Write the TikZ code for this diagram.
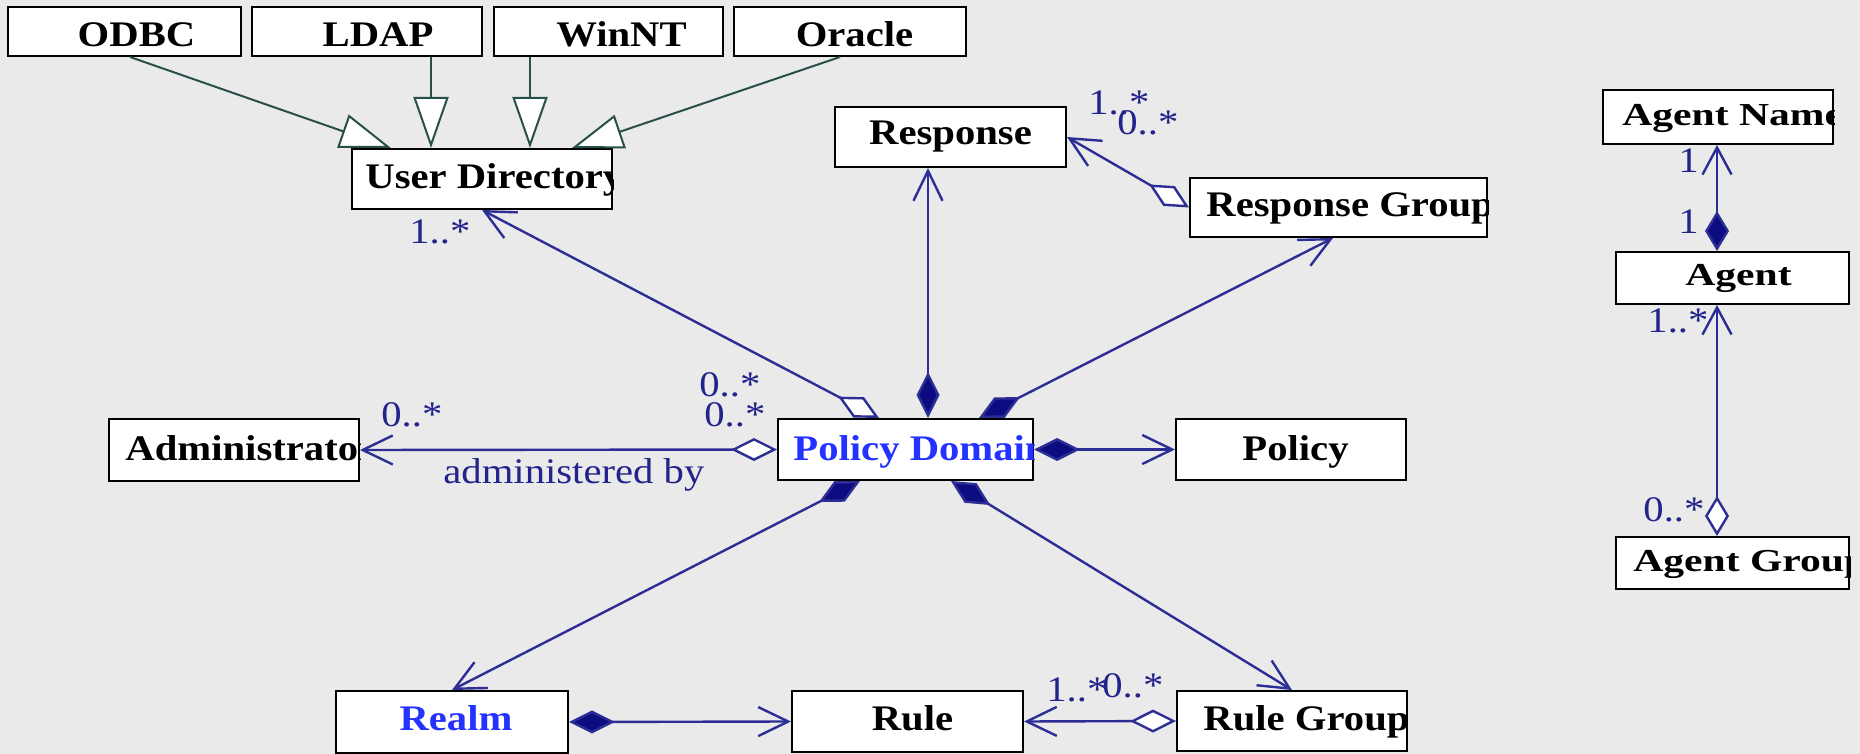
\documentclass[tikz,border=0pt]{standalone}
\usepackage{fontspec}
\setmainfont{Liberation Serif}[FakeStretch=1.13]
\newfontfamily\agentfont{Liberation Serif}[FakeStretch=1.3]
\usetikzlibrary{arrows.meta,calc}
\definecolor{bgc}{RGB}{234,234,234}
\definecolor{genc}{RGB}{40,80,75}
\definecolor{asc}{RGB}{45,45,150}
\definecolor{dfill}{RGB}{12,12,128}
\definecolor{labc}{RGB}{35,35,140}
\definecolor{bluet}{RGB}{35,50,255}
\begin{document}
\begin{tikzpicture}[x=0.5pt,y=-0.5pt,
  box/.style={draw=black, fill=white, line width=1pt, inner sep=0pt},
  txt/.style={inner sep=0pt, font=\fontsize{18}{20}\selectfont\bfseries},
  atxt/.style={inner sep=0pt, font=\agentfont\fontsize{16}{18}\selectfont\bfseries},
  lab/.style={inner sep=0pt, text=labc, font=\fontsize{18}{20}\selectfont, anchor=base west},
  gen/.style={draw=genc, line width=1pt, -{Triangle[length=25.5pt,width=17.5pt,fill=white]}},
  assoc/.style={draw=asc, line width=1.2pt},
  comp/.style={arrows={{Diamond[length=23pt,width=11.5pt,fill=dfill]}-{Straight Barb[length=15pt,width=14.5pt]}}},
  aggr/.style={arrows={{Diamond[length=23pt,width=11.5pt,fill=white]}-{Straight Barb[length=15pt,width=14.5pt]}}},
  compS/.style={arrows={{Diamond[length=20pt,width=12pt,fill=dfill]}-{Straight Barb[length=13.5pt,width=14.5pt]}}},
  aggrS/.style={arrows={{Diamond[length=20pt,width=12pt,fill=white]}-{Straight Barb[length=13.5pt,width=14.5pt]}}}
]
\fill[bgc] (0,0) rectangle (1860,754);
\useasboundingbox (0,0) rectangle (1860,754);

% boxes
\node[box, minimum width=116.5pt, minimum height=24.5pt] (odbc) at (124.5,31.5) {};
\node[box, minimum width=115pt, minimum height=24.5pt] (ldap) at (367,31.5) {};
\node[box, minimum width=114.5pt, minimum height=24.5pt] (winnt) at (608.5,31.5) {};
\node[box, minimum width=116pt, minimum height=24.5pt] (oracle) at (850,31.5) {};
\node[box, minimum width=130pt, minimum height=30pt] (ud) at (482,179) {};
\node[box, minimum width=115.5pt, minimum height=30pt] (resp) at (950.5,137) {};
\node[box, minimum width=148.5pt, minimum height=29.5pt] (rg) at (1338.5,207.5) {};
\node[box, minimum width=125pt, minimum height=31pt] (admin) at (234,450) {};
\node[box, minimum width=127.5pt, minimum height=30.5pt] (pd) at (905.5,449.5) {};
\node[box, minimum width=115pt, minimum height=30.5pt] (pol) at (1291,449.5) {};
\node[box, minimum width=116pt, minimum height=31pt] (realm) at (452,722) {};
\node[box, minimum width=115.5pt, minimum height=30.5pt] (rule) at (907.5,721.5) {};
\node[box, minimum width=115pt, minimum height=30pt] (rgrp) at (1292,721) {};
\node[box, minimum width=115pt, minimum height=27pt] (an) at (1718,117) {};
\node[box, minimum width=116.5pt, minimum height=26pt] (ag) at (1732.5,278) {};
\node[box, minimum width=116.5pt, minimum height=26pt] (agg) at (1732.5,563) {};

% centred texts
\node[txt, anchor=base] (odbc-t) at (136.5,46.7) {ODBC};
\node[txt, anchor=base] (ldap-t) at (378,46.7) {LDAP};
\node[txt, anchor=base] (winnt-t) at (621.5,46.7) {WinNT};
\node[txt, anchor=base] (oracle-t) at (854.5,46.7) {Oracle};
\node[txt, anchor=base] (resp-t) at (950.5,145) {Response};
\node[txt, anchor=base] (pol-t) at (1295.5,460.7) {Policy};
\node[txt, anchor=base, text=bluet] (realm-t) at (456,730) {Realm};
\node[txt, anchor=base] (rule-t) at (912.5,730) {Rule};
\node[atxt, anchor=base] (ag-t) at (1738.5,286) {Agent};

% clipped texts
\begin{scope}\clip (ud.south west) rectangle (ud.north east);
\node[txt, anchor=base west] (ud-t) at (365,188.3) {User Directory};\end{scope}
\begin{scope}\clip (admin.south west) rectangle (admin.north east);
\node[txt, anchor=base west] (admin-t) at (125,460) {Administrator};\end{scope}
\begin{scope}\clip (pd.south west) rectangle (pd.north east);
\node[txt, anchor=base west, text=bluet] (pd-t) at (793,460) {Policy Domain};\end{scope}
\begin{scope}\clip (rg.south west) rectangle (rg.north east);
\node[txt, anchor=base west] (rg-t) at (1206,216.7) {Response Group};\end{scope}
\begin{scope}\clip (rgrp.south west) rectangle (rgrp.north east);
\node[txt, anchor=base west] (rgrp-t) at (1203,730) {Rule Group};\end{scope}
\begin{scope}\clip (an.south west) rectangle (an.north east);
\node[atxt, anchor=base west] (an-t) at (1622,126) {Agent Name};\end{scope}
\begin{scope}\clip (agg.south west) rectangle (agg.north east);
\node[atxt, anchor=base west] (agg-t) at (1633,571) {Agent Group};\end{scope}

% generalizations
\draw[gen] ($(odbc.south)+(5.5,0)$) -- ($(ud.north)+(-91,0)$);
\draw[gen] ($(ldap.south)+(64,0)$) -- ($(ud.north)+(-51,0)$);
\draw[gen] ($(winnt.south)+(-78.5,0)$) -- ($(ud.north)+(48,0)$);
\draw[gen] ($(oracle.south)+(-10,0)$) -- ($(ud.north)+(90,0)$);

% associations
\draw[assoc, aggr] ($(pd.north)+(-26.5,0)$) -- (ud.south);
\draw[assoc, comp] ($(pd.north)+(22.5,0)$) -- ($(resp.south)+(-22.5,0)$);
\draw[assoc, comp] ($(pd.north)+(73.5,0)$) -- ($(rg.south)+(-5.5,0)$);
\draw[assoc, aggr] (rg.west) -- (resp.east);
\draw[assoc, aggr] (pd.west) -- (admin.east);
\draw[assoc, comp] (pd.east) -- (pol.west);
\draw[assoc, comp] ($(pd.south)+(-45.5,0)$) -- (realm.north);
\draw[assoc, comp] ($(pd.south)+(45.5,0)$) -- (rgrp.north);
\draw[assoc, comp] (realm.east) -- (rule.west);
\draw[assoc, aggr] (rgrp.west) -- (rule.east);
\draw[assoc, compS] ($(ag.north)+(-15.5,0)$) -- ($(an.south)+(-1,0)$);
\draw[assoc, aggrS] ($(agg.north)+(-15.5,0)$) -- ($(ag.south)+(-15.5,0)$);

% labels
\node[lab] (l1) at (409,244) {1..*};
\node[lab] (l2) at (699,397) {0..*};
\node[lab] (l3) at (704,427) {0..*};
\node[lab] (l4) at (381,427) {0..*};
\node[lab] (l5) at (443,483) {administered by};
\node[lab] (l6) at (1088,115) {1..*};
\node[lab] (l7) at (1117,135) {0..*};
\node[lab] (l8) at (1046,701) {1..*};
\node[lab] (l9) at (1102,697) {0..*};
\node[lab] (l10) at (1678,173) {1};
\node[lab] (l11) at (1678,234) {1};
\node[lab] (l12) at (1647,333) {1..*};
\node[lab] (l13) at (1643,522) {0..*};
\end{tikzpicture}
\end{document}
